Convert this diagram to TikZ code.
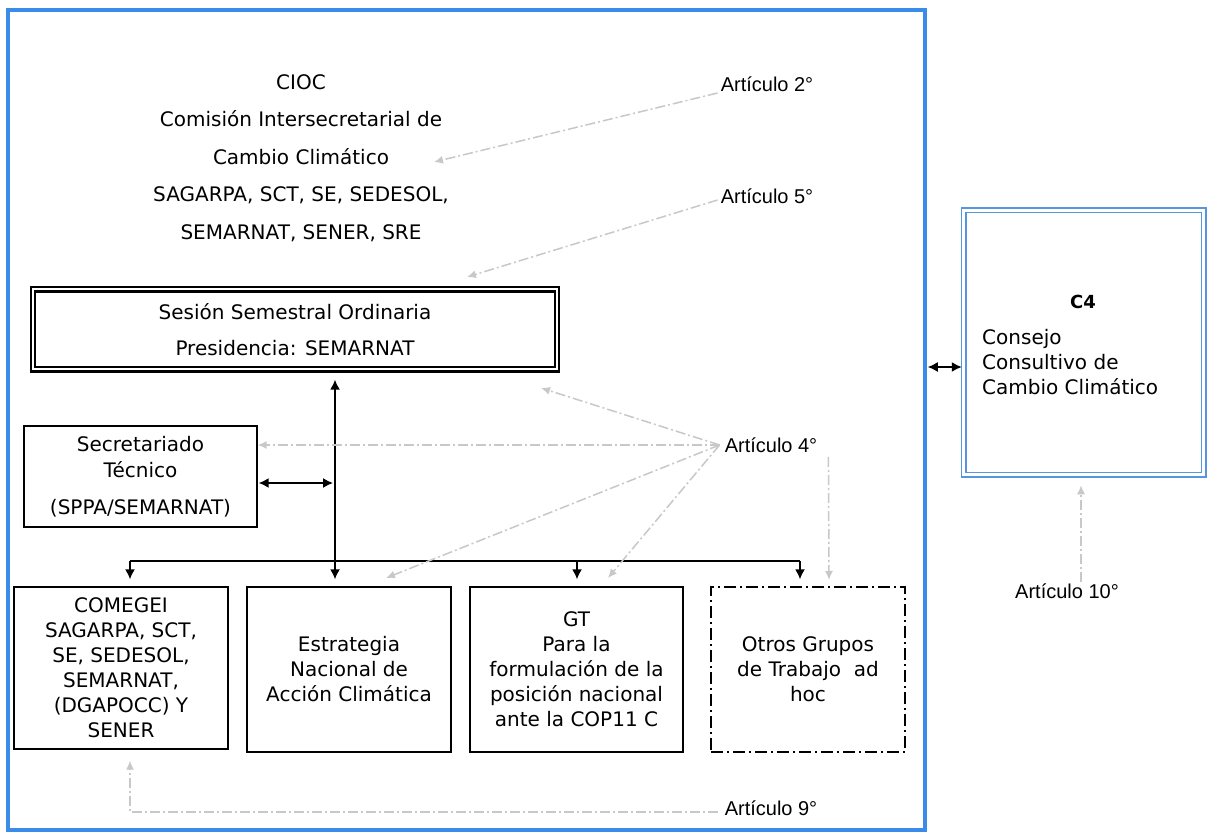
\documentclass[tikz,border=0pt]{standalone}
\usepackage{fontspec}
\setmainfont{DejaVu Sans}
\newfontfamily\arifont{Liberation Sans}
\usetikzlibrary{arrows.meta}
\definecolor{frameblue}{RGB}{58,140,232}
\definecolor{cfourblue}{RGB}{85,150,220}
\definecolor{artgray}{RGB}{200,200,200}
\begin{document}
\begin{tikzpicture}[x=1pt,y=-1pt,
  txt/.style={align=center, inner sep=0pt},
  box/.style={draw=black, line width=1.4pt, align=center, inner sep=0pt, font=\fontsize{20}{25}\selectfont},
  art/.style={font=\arifont\fontsize{20}{24}\selectfont, inner sep=1pt},
  blk/.style={line width=1.5pt, -{Latex[length=10pt,width=10pt]}},
  blkboth/.style={line width=1.5pt, {Latex[length=10pt,width=10pt]}-{Latex[length=10pt,width=10pt]}},
  gr/.style={draw=artgray, line width=1.5pt, dash pattern=on 10pt off 3pt on 2pt off 3pt, -{Latex[length=9pt,width=8pt]}}
]
\useasboundingbox (0,0) rectangle (1208,834);
\fill[white] (0,0) rectangle (1208,834);
\node[draw=frameblue, line width=3.5pt, minimum width=917pt, minimum height=820pt, inner sep=0pt] (frame) at (466.5,420) {};

% main texts
\node[txt, font=\fontsize{20}{37.5}\selectfont] (cioc) at (301,158)
  {CIOC\\Comisión Intersecretarial de\\Cambio Climático\\SAGARPA, SCT, SE, SEDESOL,\\SEMARNAT, SENER, SRE};

\node[draw, line width=2.4pt, double=white, double distance=2pt, minimum width=524pt, minimum height=80pt,
  inner sep=0pt, align=center, font=\fontsize{20}{36}\selectfont] (ses) at (295,329.5)
  {Sesión Semestral Ordinaria\\Presidencia: SEMARNAT};

\node[box, minimum width=233pt, minimum height=101pt] (sec) at (140.5,476.5)
  {Secretariado\\[1pt]Técnico\\[12pt](SPPA/SEMARNAT)};

\node[box, minimum width=214pt, minimum height=162pt] (com) at (121,668)
  {COMEGEI\\SAGARPA, SCT,\\SE, SEDESOL,\\SEMARNAT,\\(DGAPOCC) Y\\SENER};
\node[box, minimum width=204pt, minimum height=165pt] (est) at (349,669.5)
  {Estrategia\\Nacional de\\Acción Climática};
\node[box, minimum width=213pt, minimum height=165pt] (gt) at (576.5,669.5)
  {GT\\Para la\\formulación de la\\posición nacional\\ante la COP11 C};
\node[box, dash pattern=on 12pt off 4pt on 2pt off 4pt, minimum width=194pt, minimum height=165pt] (otr) at (808,669.5)
  {Otros Grupos\\de Trabajo~ ad\\hoc};

% C4
\node[draw=cfourblue, line width=1.5pt, double=white, double distance=3pt, minimum width=240pt, minimum height=264pt] (cfour) at (1083.5,342.5) {};
\node[txt, font=\bfseries\fontsize{18}{22}\selectfont] (cfourt) at (1083,302) {C4};
\node[txt, anchor=west, align=left, font=\fontsize{20}{25}\selectfont] (cfourd) at (982,362)
  {Consejo\\Consultivo de\\Cambio Climático};

% Articulo labels
\node[art] (a2) at (767,84) {Artículo 2°};
\node[art] (a5) at (767,196) {Artículo 5°};
\node[art] (a4) at (771,445) {Artículo 4°};
\node[art] (a9) at (771,808) {Artículo 9°};
\node[art] (a10) at (1067,591) {Artículo 10°};

% black connectors
\coordinate (vx) at (335,561);
\coordinate (busL) at (130,561);
\coordinate (busG) at (577,561);
\coordinate (busR) at (800,561);
\draw[blkboth, shorten <=9pt, shorten >=7pt] (ses.south -| vx) -- (est.north -| vx);
\draw[line width=1.5pt] (busL) -- (busR);
\draw[blk, shorten >=7pt] (busL) -- (busL |- com.north);
\draw[blk, shorten >=7pt] (busG) -- (busG |- gt.north);
\draw[blk, shorten >=7pt] (busR) -- (busR |- otr.north);
\draw[blkboth, shorten <=1pt, shorten >=2pt] (sec.east |- 0,483) -- (vx |- 0,483);
\draw[blkboth, shorten <=1pt, shorten >=1pt] (frame.east |- 0,367) -- (cfour.west |- 0,367);

% gray connectors
\draw[gr] ([xshift=-2pt,yshift=-9pt]a2.west) -- (434,162);
\draw[gr] ([xshift=-2pt,yshift=-4pt]a5.west) -- (467,277);
\draw[gr] ([xshift=-4pt]a4.west) -- (541,388);
\draw[gr] ([xshift=-4pt]a4.west) -- (sec.east |- a4.west);
\draw[gr] ([xshift=-4pt]a4.west) -- (386,578);
\draw[gr] ([xshift=-4pt]a4.west) -- (608,578);
\draw[gr] ([xshift=10pt,yshift=-12pt]a4.east) -- (829,580);
\draw[gr] ([xshift=-6pt,yshift=-4pt]a9.west) -| ([yshift=-11pt]busL |- com.south);
\draw[gr] ([xshift=14pt]a10.north) -- ([yshift=-10pt]cfour.south -| 1081,0);
\end{tikzpicture}
\end{document}
